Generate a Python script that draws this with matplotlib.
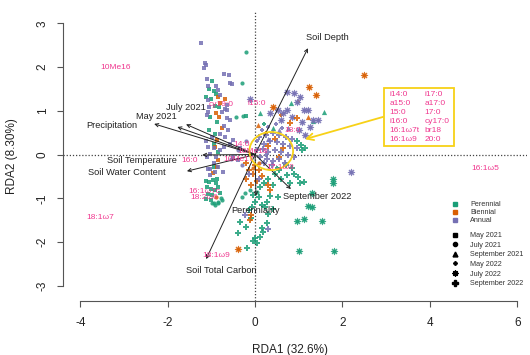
import numpy as np
import matplotlib
matplotlib.use('Agg')
from matplotlib import pyplot as plt
from matplotlib.lines import Line2D
from matplotlib.patches import Ellipse, Rectangle

plt.rcParams['font.family'] = ['Liberation Sans', 'DejaVu Sans']

c_per = '#1b9e77'   # perennial
c_bie = '#d95f02'   # biennial
c_ann = '#7570b3'   # annual
pink  = '#f0388f'
gold  = '#f7d117'

# ---- site scores (RDA1, RDA2) ----
may21_annual = [(-1.24, 2.55), (-1.15, 2.10), (-1.13, 2.05), (-1.17, 1.97), (-1.09, 1.72), (-1.07, 1.56),
                (-0.71, 1.84), (-0.60, 1.82), (-0.57, 1.63), (-0.52, 1.61), (-0.89, 1.56), (-0.84, 1.47),
                (-0.80, 1.36), (-1.05, 1.09), (-1.07, 1.25), (-0.76, 0.98), (-0.65, 1.02), (-0.65, 0.83),
                (-0.57, 0.79), (-0.71, 0.65), (-0.80, 0.48), (-0.69, 0.40), (-0.99, 0.40), (-1.07, 0.18),
                (-0.95, 0.14), (-1.03, 0.02), (-1.11, -0.05), (-0.89, -0.05), (-0.80, 0.10), (-0.71, 0.18),
                (-0.57, 0.25), (-0.95, -0.20), (-1.07, -0.32), (-0.84, -0.28), (-0.73, -0.39), (-1.03, -0.47),
                (-0.50, -0.05), (-0.38, -0.13), (-0.34, 0.14), (-0.50, 0.33), (-1.03, -0.32), (-0.92, -0.39),
                (-1.10, 0.90), (-1.07, 0.98), (-0.69, 1.05), (-0.65, 1.13), (-0.62, 0.55), (-1.12, 0.30)]
may21_perennial = [(-0.99, 1.67), (-1.05, 1.49), (-0.95, 1.46), (-0.89, 1.38), (-1.12, 1.31), (-1.02, 1.28),
                   (-0.92, 1.11), (-0.82, 1.09), (-1.03, 0.86), (-0.88, 0.75), (-1.05, 0.57), (-0.92, 0.48),
                   (-0.95, 0.25), (-0.84, 0.06), (-0.95, -0.28), (-0.88, -0.55), (-0.21, 0.88),
                   (-1.12, -0.60), (-1.05, -0.62), (-0.97, -0.58), (-0.90, -0.65), (-1.10, -0.75),
                   (-1.00, -0.78), (-0.92, -0.82), (-0.85, -0.75), (-1.08, -0.90), (-0.98, -0.92),
                   (-0.80, -0.88), (-1.12, -1.02), (-1.02, -1.05)]
may21_biennial = [(-0.84, 1.31), (-0.69, 1.26), (-0.80, 1.17), (-0.89, 0.95), (-0.82, 0.86), (-0.76, 0.60),
                  (-0.88, 0.33), (-0.92, 0.18), (-0.88, -0.28), (-0.84, -0.13), (-0.97, -0.43)]

jul21_annual = [(-0.40, 0.10), (-0.55, -0.10), (-0.30, -0.25), (-0.20, 0.30)]
jul21_perennial = [(-0.21, 2.34), (-0.30, 1.64), (-0.43, 0.85), (-0.27, 0.88), (-0.99, -1.11),
                   (-0.92, -1.15), (-0.84, -1.11), (-0.76, -1.04), (-0.95, -1.10), (-0.85, -1.08),
                   (-0.78, -1.00), (-0.30, -0.96), (-0.23, -0.89), (-0.11, -0.81), (0.04, -0.85)]
jul21_biennial = [(-0.90, -0.97), (-0.05, -0.30), (0.10, -0.20)]

sep21_annual = [(0.55, 0.55), (0.30, 0.35), (0.75, 0.60)]
sep21_perennial = [(0.11, 0.95), (0.82, 1.17), (1.58, 0.98), (1.33, 0.76), (0.40, 0.60)]
sep21_biennial = [(0.07, 0.67), (1.21, 0.85)]

may22_annual = [(0.15, 0.55), (0.30, 0.62), (0.48, 0.70), (0.62, 0.60), (0.05, 0.30), (0.25, -0.02)]
may22_perennial = [(0.20, 0.70), (0.50, -0.30)]
may22_biennial = [(0.99, 1.21), (0.60, 0.90), (0.25, 0.50)]

jul22_annual = [(0.72, 1.43), (0.88, 1.40), (1.03, 1.32), (0.95, 1.21), (0.53, 1.02), (0.65, 0.94),
                (0.74, 1.02), (1.11, 1.02), (1.22, 1.02), (1.33, 0.79), (1.45, 0.79), (1.07, 0.75),
                (1.26, 0.63), (0.85, 0.85), (0.60, 0.78), (0.35, 0.95), (1.15, 0.45), (1.00, 0.55),
                (-0.11, 1.28), (2.20, -0.41)]
jul22_perennial = [(1.01, -2.20), (1.81, -2.20), (1.79, -0.57), (1.79, -0.66), (0.95, -1.53), (1.13, -1.47),
                   (1.54, -1.51), (1.22, -1.18), (1.31, -1.19), (1.30, -0.87)]
jul22_biennial = [(2.49, 1.82), (1.24, 1.55), (1.39, 1.36), (0.42, 1.09), (-0.40, -2.16)]

sep22_annual = [(0.10, 0.40), (0.25, 0.45), (0.40, 0.50), (0.55, 0.45), (0.70, 0.40), (0.85, 0.35),
                (0.20, 0.25), (0.35, 0.30), (0.50, 0.28), (0.65, 0.25), (0.80, 0.20), (0.95, 0.15),
                (0.05, 0.10), (0.18, 0.12), (0.30, 0.05), (0.45, 0.10), (0.60, 0.05), (0.75, 0.00),
                (0.90, -0.05), (0.12, -0.05), (0.28, -0.10), (0.42, -0.15), (0.55, -0.10), (0.68, -0.20),
                (0.38, -0.25), (0.20, -0.20), (-0.23, -1.38), (0.30, -1.71), (0.10, -0.55), (-0.15, -0.45)]
sep22_perennial = [(1.04, 0.22), (1.14, 0.14), (1.07, 0.10), (0.95, 0.30), (0.70, -0.25), (0.85, -0.30),
                   (0.55, -0.35), (0.45, -0.45), (0.60, -0.55), (0.72, -0.47), (0.88, -0.45), (0.99, -0.51),
                   (1.11, -0.62), (0.80, -0.66), (1.03, -0.66), (0.52, -0.98), (-0.38, -1.80), (-0.19, -2.14),
                   (0.27, -1.57), (0.15, -1.68), (0.19, -1.76), (0.11, -1.88), (0.00, -1.91), (0.04, -2.03),
                   (-0.04, -1.97), (-0.15, -1.27), (-0.08, -1.19), (0.00, -1.08), (0.08, -0.96), (0.15, -1.15),
                   (0.23, -1.19), (0.27, -1.08), (-0.04, -0.92), (0.11, -0.74), (-0.34, -1.55), (-0.20, -1.65),
                   (-0.10, -1.45), (0.30, -1.35), (0.40, -1.25), (0.35, -0.95), (0.20, -0.65), (0.30, -0.55),
                   (0.42, -0.70)]
sep22_biennial = [(-0.11, -1.50), (-0.10, -1.38), (0.34, -0.81), (0.30, -0.70), (-0.15, -0.35), (-0.05, -0.45),
                  (0.05, -0.60), (-0.20, -0.55), (0.10, -0.35), (-0.10, -0.70), (0.15, -0.50), (0.00, -0.25),
                  (-0.20, -0.20), (0.95, 0.83), (0.80, 0.71), (0.45, 0.35), (0.65, 0.15), (0.30, 0.20),
                  (0.55, -0.05)]

# ---- environmental vectors ----
env_names = ['Soil Depth', 'Precipitation', 'May 2021', 'July 2021', 'Soil Temperature',
             'Soil Water Content', 'Soil Total Carbon', 'Perenniality', 'September 2022']
env_x = [1.21, -2.31, -1.78, -1.58, -1.21, -1.56, -1.12, 0.02, 0.82]
env_y = [2.43, 0.70, 0.63, 0.69, -0.01, -0.38, -2.39, -0.95, -0.79]
env_lab_x = [1.65, -3.28, -2.27, -1.59, -2.59, -2.93, -0.78, 0.01, 1.42]
env_lab_y = [2.68, 0.67, 0.88, 1.08, -0.13, -0.40, -2.66, -1.27, -0.95]

# ---- PLFA species scores ----
sp_names = ['10Me16', 'cy19:0', 'i15:0', '14:0', '10Me18', '10Me17', '16:0', '18:0', '17:1\u03c98',
            '16:1\u03c97c', '18:2\u03c96', '18:1\u03c97', '18:1\u03c99', '16:1\u03c95']
sp_x = [-3.20, -0.78, 0.04, -0.30, -0.05, -0.37, -1.51, 0.86, 0.57, -1.17, -1.16, -3.55, -0.90, 5.26]
sp_y = [2.00, 1.15, 1.17, 0.22, 0.07, -0.12, -0.13, 0.54, -0.29, -0.84, -0.99, -1.45, -2.30, -0.33]

box_col1 = ['i14:0', 'a15:0', '15:0', 'i16:0', '16:1\u03c97t', '16:1\u03c99']
box_col2 = ['i17:0', 'a17:0', '17:0', 'cy17:0', 'br18', '20:0']


fig = plt.figure(figsize=(5.3, 3.55), dpi=100)
ax = fig.add_axes([0.1194, 0.153, 0.8746, 0.816])
ax.set_xlim(-4.39, 6.22)
ax.set_ylim(-3.34, 3.28)

ax.axhline(0, color='#444444', lw=0.9, ls=(0, (1, 1.5)), zorder=1)
ax.axvline(0, color='#444444', lw=0.9, ls=(0, (1, 1.5)), zorder=1)


def draw(pts, marker, col, size):
    xy = np.array(pts)
    if marker == 'ast':
        ax.scatter(xy[:, 0], xy[:, 1], marker=(8, 2, 0), s=size, c=col, linewidths=0.8, alpha=0.85, zorder=2)
        ax.scatter(xy[:, 0], xy[:, 1], marker='o', s=size * 0.3, c=col, linewidths=0, alpha=0.85, zorder=2)
    else:
        ax.scatter(xy[:, 0], xy[:, 1], marker=marker, s=size, c=col, linewidths=0, alpha=0.85, zorder=2)


draw(may21_perennial, 's', c_per, 11)
draw(may21_biennial, 's', c_bie, 11)
draw(may21_annual, 's', c_ann, 11)
draw(jul21_perennial, 'o', c_per, 9)
draw(jul21_biennial, 'o', c_bie, 9)
draw(jul21_annual, 'o', c_ann, 9)
draw(sep21_perennial, '^', c_per, 14)
draw(sep21_biennial, '^', c_bie, 14)
draw(sep21_annual, '^', c_ann, 14)
draw(may22_perennial, 'P', c_per, 8)
draw(may22_biennial, 'P', c_bie, 8)
draw(may22_annual, 'P', c_ann, 8)
draw(jul22_perennial, 'ast', c_per, 20)
draw(jul22_biennial, 'ast', c_bie, 20)
draw(jul22_annual, 'ast', c_ann, 20)
draw(sep22_perennial, 'P', c_per, 16)
draw(sep22_biennial, 'P', c_bie, 16)
draw(sep22_annual, 'P', c_ann, 16)

# arrows
for i in range(len(env_names)):
    ax.annotate('', xy=(env_x[i], env_y[i]), xytext=(0, 0),
                arrowprops=dict(arrowstyle='->', lw=0.7, color='#222222', mutation_scale=6,
                                shrinkA=0, shrinkB=0), zorder=3)
    ax.text(env_lab_x[i], env_lab_y[i], env_names[i], fontsize=6.7, color='#222222',
            ha='center', va='center', zorder=4)

for i in range(len(sp_names)):
    ax.text(sp_x[i], sp_y[i], sp_names[i], fontsize=6.0, color=pink, ha='center', va='center', zorder=5)

# highlighted group
ax.add_patch(Ellipse((0.37, 0.08), 1.0, 0.87, fill=False, ec=gold, lw=1.3, zorder=4))
ax.add_patch(Rectangle((2.95, 0.19), 1.60, 1.33, fc='white', ec=gold, lw=1.3, zorder=4))
ax.annotate('', xy=(1.14, 0.35), xytext=(2.93, 0.86),
            arrowprops=dict(arrowstyle='->', lw=1.3, color=gold, mutation_scale=12,
                            shrinkA=0, shrinkB=0), zorder=4)
row_y = np.linspace(1.37, 0.35, len(box_col1))
for i in range(len(box_col1)):
    ax.text(3.07, row_y[i], box_col1[i], fontsize=6, color=pink, va='center', zorder=5)
    ax.text(3.87, row_y[i], box_col2[i], fontsize=6, color=pink, va='center', zorder=5)

# R-like detached axes
for s in ['top', 'right']:
    ax.spines[s].set_visible(False)
ax.spines['bottom'].set_bounds(-4, 6)
ax.spines['left'].set_bounds(-3, 3)
for s in ['bottom', 'left']:
    ax.spines[s].set_color('#555555')
    ax.spines[s].set_linewidth(0.8)
ax.set_xticks([-4, -2, 0, 2, 4, 6])
ax.set_yticks([-3, -2, -1, 0, 1, 2, 3])
ax.set_yticklabels(['-3', '-2', '-1', '0', '1', '2', '3'], rotation=90, va='center')
ax.set_xticklabels(['-4', '-2', '0', '2', '4', '6'])
ax.tick_params(axis='both', length=4.5, width=0.8, color='#555555', labelsize=8.5, labelcolor='#222222')
ax.tick_params(axis='x', pad=7)
ax.tick_params(axis='y', pad=6)

ax.set_xlabel('RDA1 (32.6%)', fontsize=8.5, color='#222222')
ax.xaxis.set_label_coords(0.489, -0.149)
ax.set_ylabel('RDA2 (8.30%)', fontsize=8.5, color='#222222')
ax.yaxis.set_label_coords(-0.097, 0.5)

# legends
h1 = [Line2D([], [], marker='s', color=c, ls='None', markersize=2.8) for c in (c_per, c_bie, c_ann)]
leg1 = fig.legend(h1, ['Perennial', 'Biennial', 'Annual'], loc='upper left',
                  bbox_to_anchor=(0.844, 0.4437), frameon=False, fontsize=5.2, borderpad=0,
                  handlelength=1.0, handletextpad=1.7, labelspacing=0.15, labelcolor='#333333')
h2 = [Line2D([], [], marker='s', color='k', ls='None', markersize=3),
      Line2D([], [], marker='o', color='k', ls='None', markersize=3),
      Line2D([], [], marker='^', color='k', ls='None', markersize=3.5),
      Line2D([], [], marker='P', color='k', ls='None', markersize=2.5),
      Line2D([], [], marker=(8, 2, 0), color='k', ls='None', markersize=4.5, markeredgewidth=0.9),
      Line2D([], [], marker='P', color='k', ls='None', markersize=4)]
leg2 = fig.legend(h2, ['May 2021', 'July 2021', 'September 2021', 'May 2022', 'July 2022', 'September 2022'],
                  loc='upper left', bbox_to_anchor=(0.844, 0.3563), frameon=False, fontsize=5.2, borderpad=0,
                  handlelength=1.0, handletextpad=1.7, labelspacing=0.35, labelcolor='#333333')

fig.savefig('out.png', dpi=100)
